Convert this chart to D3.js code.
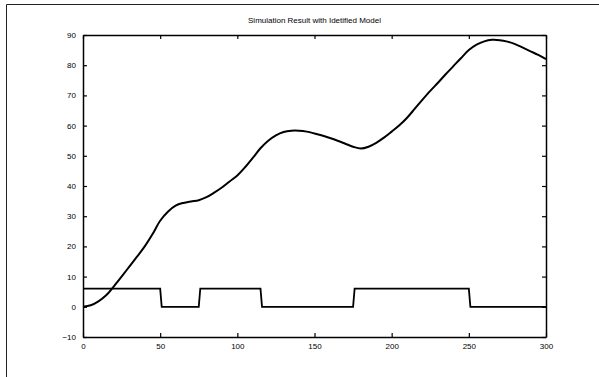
<!DOCTYPE html>
<html>
<head>
<meta charset="utf-8">
<script src="https://cdn.jsdelivr.net/npm/d3@7"></script>
<style>
  body { margin: 0; background: #fff; }
  text { font-family: "Liberation Sans", Arial, sans-serif; fill: #000; }
</style>
</head>
<body>
<svg id="chart"></svg>
<script>
// model response
const modelTime = [0, 5, 10, 15, 20, 25, 30, 35, 40, 45, 50, 55, 60, 65, 70, 75, 80, 85, 90, 95,
  100, 105, 110, 115, 120, 125, 130, 135, 140, 145, 150, 155, 160, 165, 170, 175, 180, 185, 190, 195,
  200, 205, 210, 215, 220, 225, 230, 235, 240, 245, 250, 255, 260, 265, 270, 275, 280, 285, 290, 295, 300];
const modelValue = [0, 0.5, 1.8, 3.8, 6.8, 10, 13.3, 16.6, 20, 24, 28.5, 31.5, 33.5, 34.4, 34.9, 35.3, 36.3, 37.8, 39.5, 41.5,
  43.5, 46.2, 49.3, 52.5, 55, 56.8, 57.9, 58.3, 58.3, 58, 57.4, 56.7, 55.9, 55, 54, 53, 52.4, 53, 54.3, 56,
  58, 60.1, 62.6, 65.6, 68.6, 71.5, 74.2, 77, 79.7, 82.4, 85, 86.8, 87.9, 88.4, 88.3, 87.8, 87, 85.8, 84.6, 83.4, 82];

// input pulse
const inputTime = [0, 50, 51, 75, 76, 115, 116, 175, 176, 250, 251, 300];
const inputValue = [6, 6, 0, 0, 6, 6, 0, 0, 6, 6, 0, 0];

const xTicks = [0, 50, 100, 150, 200, 250, 300];
const yTicks = [-10, 0, 10, 20, 30, 40, 50, 60, 70, 80, 90];
const title = 'Simulation Result with Idetified Model';

const W = 599, H = 377;
const margin = {top: 35, right: 53, bottom: 40, left: 83};

const svg = d3.select('#chart').attr('width', W).attr('height', H);

// figure frame (top and left edges visible in the scan)
svg.append('path')
    .attr('d', `M6.5,${H} L6.5,4.5 L${W},4.5`)
    .attr('fill', 'none')
    .attr('stroke', '#222')
    .attr('stroke-width', 1);

const x = d3.scaleLinear().domain([0, 300]).range([margin.left, W - margin.right]);
const y = d3.scaleLinear().domain([-10, 90]).range([H - margin.bottom, margin.top]);

const tickLen = 4;

// axes with inward ticks, MATLAB style box
const bottomAxis = d3.axisBottom(x).tickValues(xTicks).tickSize(-tickLen).tickSizeOuter(0).tickPadding(6);
const topAxis = d3.axisTop(x).tickValues(xTicks).tickSize(-tickLen).tickSizeOuter(0).tickFormat('');
const leftAxis = d3.axisLeft(y).tickValues(yTicks).tickSize(-tickLen).tickSizeOuter(0).tickPadding(7);
const rightAxis = d3.axisRight(y).tickValues(yTicks).tickSize(-tickLen).tickSizeOuter(0).tickFormat('');

function styleAxis(g) {
  g.select('.domain').attr('stroke', '#000').attr('stroke-width', 1.5);
  g.selectAll('.tick line').attr('stroke', '#000').attr('stroke-width', 1.2);
  g.selectAll('.tick text').attr('font-size', 8).attr('fill', '#000')
    .attr('font-family', '"Liberation Sans", Arial, sans-serif');
}

svg.append('g').attr('transform', `translate(0,${y(-10)})`).call(bottomAxis).call(styleAxis);
svg.append('g').attr('transform', `translate(0,${y(90)})`).call(topAxis).call(styleAxis);
svg.append('g').attr('transform', `translate(${x(0)},0)`).call(leftAxis).call(styleAxis);
svg.append('g').attr('transform', `translate(${x(300)},0)`).call(rightAxis).call(styleAxis);

const line = d3.line()
    .x(d => x(d[0]))
    .y(d => y(d[1]));

svg.append('path')
    .datum(inputTime.map((t, i) => [t, inputValue[i]]))
    .attr('fill', 'none')
    .attr('stroke', '#000')
    .attr('stroke-width', 1.8)
    .attr('d', line);

svg.append('path')
    .datum(modelTime.map((t, i) => [t, modelValue[i]]))
    .attr('fill', 'none')
    .attr('stroke', '#000')
    .attr('stroke-width', 2)
    .attr('d', line.curve(d3.curveCatmullRom.alpha(0.5)));

svg.append('text')
    .attr('x', (x(0) + x(300)) / 2)
    .attr('y', 23)
    .attr('text-anchor', 'middle')
    .attr('font-size', 8)
    .text(title);
</script>
</body>
</html>
